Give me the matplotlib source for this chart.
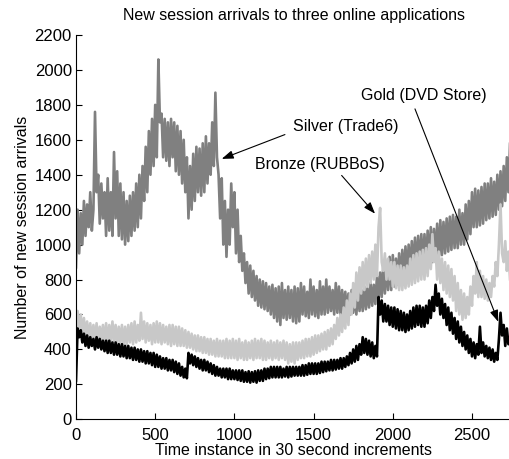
import matplotlib
matplotlib.use("Agg")
import matplotlib.pyplot as plt

plt.rcParams['font.family'] = ['Liberation Sans', 'DejaVu Sans']

# time instances (30 s increments), read every 10 instances
time = list(range(0, 2741, 10))

silver = [
    870, 1200, 950, 1180, 1000, 1250, 1050, 1230, 1100, 1300, 1080, 1200, 1760, 1300, 1400, 1120, 1350, 1150, 1300, 1050,
    1380, 1080, 1300, 1050, 1530, 1150, 1420, 1050, 1350, 1030, 1300, 1000, 1250, 1020, 1280, 1050, 1300, 1080, 1350, 1100,
    1400, 1150, 1450, 1250, 1560, 1300, 1650, 1400, 1720, 1450, 1800, 1500, 2060, 1700, 1750, 1500, 1720, 1480, 1700, 1450,
    1720, 1500, 1700, 1420, 1680, 1400, 1650, 1350, 1600, 1300, 1500, 1150, 1450, 1200, 1520, 1250, 1560, 1300, 1550, 1280,
    1580, 1300, 1620, 1350, 1580, 1400, 1700, 1450, 1870, 1500, 1400, 1150, 1380, 1000, 1250, 930, 1200, 1000, 1350, 1100,
    1300, 950, 1200, 900, 1050, 850, 950, 780, 900, 720, 880, 700, 850, 680, 820, 650, 800, 640, 790, 630,
    780, 620, 760, 600, 770, 580, 750, 560, 760, 540, 780, 580, 740, 570, 760, 580, 740, 560, 760, 550,
    750, 560, 780, 600, 760, 590, 730, 580, 800, 600, 760, 590, 740, 580, 790, 600, 760, 600, 800, 610,
    760, 620, 740, 600, 780, 610, 760, 600, 740, 620, 730, 610, 720, 600, 740, 610, 720, 600, 740, 620,
    740, 620, 760, 630, 750, 640, 780, 650, 770, 660, 820, 680, 840, 700, 880, 720, 900, 740, 930, 740,
    940, 760, 920, 770, 950, 780, 970, 800, 990, 820, 1000, 840, 1020, 850, 1040, 860, 1050, 870, 1060, 880,
    1060, 880, 1080, 890, 1100, 900, 1090, 910, 1120, 920, 1140, 940, 1130, 950, 1150, 960, 1160, 970, 1170, 980,
    1160, 980, 1200, 1000, 1180, 1000, 1230, 1030, 1250, 1060, 1300, 1100, 1320, 1100, 1310, 1110, 1330, 1120, 1350, 1140,
    1350, 1150, 1380, 1160, 1360, 1170, 1400, 1200, 1420, 1220, 1450, 1250, 1500, 1300, 1580,
]

bronze = [
    500, 620, 520, 600, 490, 580, 470, 560, 460, 550, 450, 540, 450, 550, 440, 530, 450, 540, 440, 550,
    430, 540, 440, 560, 450, 540, 430, 530, 440, 540, 420, 530, 430, 540, 440, 550, 430, 560, 440, 540,
    450, 610, 460, 560, 440, 550, 450, 540, 430, 550, 440, 560, 440, 550, 430, 540, 440, 530, 430, 540,
    420, 540, 430, 530, 420, 530, 420, 520, 420, 510, 410, 500, 410, 490, 400, 480, 390, 480, 390, 470,
    380, 470, 380, 460, 370, 460, 370, 450, 360, 460, 360, 450, 360, 450, 350, 460, 350, 450, 350, 460,
    350, 450, 340, 460, 350, 440, 340, 450, 340, 440, 350, 450, 340, 460, 350, 450, 350, 460, 340, 450,
    340, 440, 350, 450, 340, 440, 350, 450, 340, 440, 350, 450, 340, 440, 320, 430, 330, 440, 320, 440,
    340, 440, 350, 450, 350, 460, 360, 460, 360, 470, 370, 480, 380, 480, 390, 490, 400, 500, 400, 510,
    420, 520, 430, 540, 460, 580, 480, 600, 500, 640, 520, 680, 540, 720, 600, 780, 640, 840, 680, 870,
    720, 900, 740, 920, 760, 940, 780, 960, 800, 1000, 820, 1100, 1210, 900, 850, 950, 800, 920, 800, 900,
    760, 900, 750, 880, 740, 880, 740, 870, 750, 880, 760, 920, 770, 940, 780, 950, 790, 960, 800, 970,
    800, 980, 820, 1000, 860, 1060, 900, 980, 800, 960, 780, 920, 740, 900, 720, 880, 700, 860, 680, 820,
    620, 780, 600, 740, 570, 720, 580, 700, 600, 760, 650, 820, 720, 900, 700, 850, 700, 820, 690, 800,
    680, 780, 700, 820, 760, 900, 820, 1000, 1230, 950, 900, 1020, 850, 960, 800,
]

gold = [
    220, 520, 470, 510, 440, 490, 420, 480, 410, 470, 420, 460, 400, 470, 410, 460, 400, 450, 390, 450,
    380, 450, 380, 440, 370, 440, 370, 430, 360, 430, 360, 420, 350, 420, 350, 410, 340, 410, 340, 400,
    330, 400, 330, 390, 320, 390, 320, 380, 310, 380, 300, 370, 300, 360, 290, 350, 290, 350, 280, 340,
    280, 340, 270, 330, 260, 320, 250, 300, 240, 290, 235, 380, 320, 370, 310, 360, 300, 350, 290, 340,
    280, 340, 280, 330, 270, 320, 260, 310, 250, 300, 250, 290, 240, 290, 240, 290, 230, 290, 230, 280,
    230, 280, 225, 280, 220, 280, 215, 270, 215, 275, 210, 270, 215, 275, 210, 280, 220, 280, 220, 290,
    230, 290, 235, 300, 240, 300, 240, 300, 240, 300, 240, 290, 245, 300, 240, 300, 245, 300, 250, 300,
    250, 300, 250, 310, 250, 310, 255, 320, 260, 320, 260, 320, 260, 320, 265, 330, 270, 330, 275, 330,
    280, 340, 280, 340, 285, 340, 290, 350, 290, 350, 300, 360, 310, 380, 320, 400, 330, 420, 340, 430,
    370, 470, 380, 460, 370, 450, 360, 440, 350, 420, 360, 700, 600, 680, 560, 660, 560, 650, 540, 640,
    530, 640, 520, 630, 510, 620, 510, 610, 500, 600, 510, 620, 520, 640, 530, 650, 540, 650, 530, 640,
    530, 650, 550, 680, 580, 700, 620, 770, 650, 720, 600, 690, 580, 660, 540, 640, 510, 610, 490, 580,
    460, 560, 440, 530, 420, 500, 400, 480, 380, 460, 360, 440, 350, 430, 370, 530, 380, 440, 360, 420,
    350, 410, 340, 400, 330, 380, 340, 460, 610, 480, 540, 420, 520, 430, 470,
]

title = "New session arrivals to three online applications"
xlabel = "Time instance in 30 second increments"
ylabel = "Number of new session arrivals"
labels = ["Silver (Trade6)", "Bronze (RUBBoS)", "Gold (DVD Store)"]

FS = 11.5

fig = plt.figure(figsize=(5.1, 4.59), dpi=100)
ax = fig.add_axes([76 / 510, 1 - 419.3 / 459, (2750 * 0.1584) / 510, (419.3 - 35) / 459])

for series, col in [(silver, '#808080'), (bronze, '#c8c8c8'), (gold, '#000000')]:
    ax.plot(time, series, color=col, lw=1.9)

ax.set_xlim(0, 2750)
ax.set_ylim(0, 2200)
ax.set_xticks([0, 500, 1000, 1500, 2000, 2500])
ax.set_yticks(range(0, 2201, 200))
ax.tick_params(direction='in', length=4, labelsize=12)
ax.tick_params(axis='x', pad=6)
ax.tick_params(axis='y', pad=3)
ax.spines['top'].set_visible(False)
ax.spines['right'].set_visible(False)
ax.set_title(title, fontsize=FS, pad=10.5)
ax.set_xlabel(xlabel, fontsize=FS, labelpad=0)
ax.set_ylabel(ylabel, fontsize=FS, labelpad=3)

arrow = dict(arrowstyle='-|>,head_length=0.7,head_width=0.25', color='black', lw=0.8,
             shrinkA=0, shrinkB=0)
ax.annotate('', xy=(920, 1491), xytext=(1319, 1630), arrowprops=arrow)
ax.text(1705, 1676, labels[0], ha='center', va='center', fontsize=FS)
ax.annotate('', xy=(1888, 1177), xytext=(1677, 1396), arrowprops=arrow)
ax.text(1537, 1459, labels[1], ha='center', va='center', fontsize=FS)
ax.annotate('', xy=(2666, 558), xytext=(2140, 1777), arrowprops=arrow)
ax.text(2197, 1853, labels[2], ha='center', va='center', fontsize=FS)

fig.savefig('out.png', dpi=100)
